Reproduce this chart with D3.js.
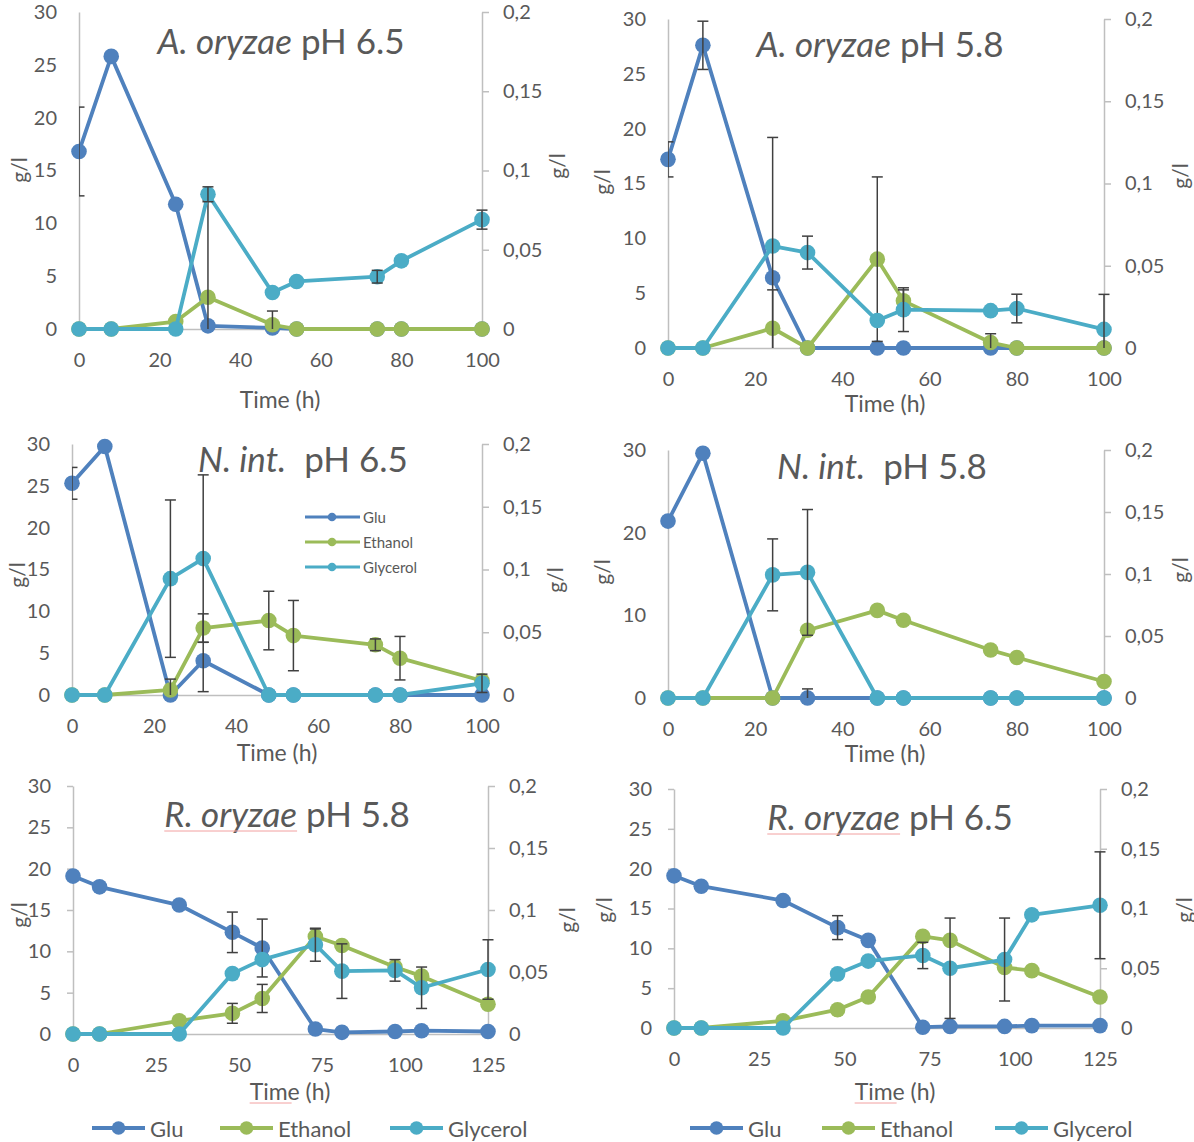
<!DOCTYPE html>
<html>
<head>
<meta charset="utf-8">
<script src="https://cdn.jsdelivr.net/npm/d3@7"></script>
<style>
  body { margin: 0; background: #fff; }
  text { font-family: Lato, "Open Sans", sans-serif; }
</style>
</head>
<body>
<div id="chart"></div>
<script>
// sampling times (h)
const timesShort = [0, 8, 24, 32, 48, 54, 74, 80, 100];
const timesLong = [0, 8, 32, 48, 57, 73, 81, 97, 105, 125];

const seriesNames = ['Glu', 'Ethanol', 'Glycerol'];
const seriesColors = ['#4F81BD', '#9BBB59', '#4BACC6'];

const leftTicks = [0, 5, 10, 15, 20, 25, 30];
const leftTicksCoarse = [0, 10, 20, 30];
const rightTicks = [0, 0.05, 0.1, 0.15, 0.2];
const timeTicksShort = [0, 20, 40, 60, 80, 100];
const timeTicksLong = [0, 25, 50, 75, 100, 125];

// Glu and Ethanol are read on the left axis (g/l), Glycerol on the right axis (g/l)
// A. oryzae pH 6.5
const aoHighGlu = [16.8, 25.8, 11.8, 0.3, 0.1, 0, 0, 0, 0];
const aoHighGluErr = [4.2, null, null, null, null, null, null, null, null];
const aoHighEth = [0, 0, 0.7, 3.0, 0.4, 0, 0, 0, 0];
const aoHighEthErr = [null, null, null, 9.2, 1.3, null, null, null, null];
const aoHighGly = [0, 0, 0, 0.085, 0.023, 0.030, 0.033, 0.043, 0.069];
const aoHighGlyErr = [null, null, null, 0.0047, null, null, 0.004, null, 0.006];

// A. oryzae pH 5.8
const aoLowGlu = [17.2, 27.6, 6.4, 0, 0, 0, 0, 0, 0];
const aoLowGluErr = [1.6, 2.2, null, null, null, null, null, null, null];
const aoLowEth = [0, 0, 1.8, 0, 8.1, 4.3, 0.5, 0, 0];
const aoLowEthErr = [null, null, 3.5, null, 7.5, 1.0, 0.8, null, null];
const aoLowGly = [0, 0, 0.062, 0.058, 0.0167, 0.0233, 0.0227, 0.024, 0.0113];
const aoLowGlyErr = [null, null, 0.066, 0.010, null, 0.0133, null, 0.0087, 0.0213];

// N. int. pH 6.5
const niHighGlu = [25.3, 29.7, 0, 4.1, 0, 0, 0, 0, 0];
const niHighGluErr = [1.9, null, null, 3.7, null, null, null, null, null];
const niHighEth = [0, 0, 0.6, 8.0, 8.9, 7.1, 6.0, 4.4, 1.7];
const niHighEthErr = [null, null, 1.3, 1.7, 3.5, 4.2, 0.7, 2.6, null];
const niHighGly = [0, 0, 0.0927, 0.1087, 0, 0, 0, 0, 0.0093];
const niHighGlyErr = [null, null, 0.0627, 0.0667, null, null, null, null, 0.0073];

// N. int. pH 5.8
const niLowGlu = [21.4, 29.6, 0, 0, 0, 0, 0, 0, 0];
const niLowGluErr = [null, null, null, 1.1, null, null, null, null, null];
const niLowEth = [0, 0, 0, 8.2, 10.6, 9.4, 5.8, 4.9, 2.0];
const niLowEthErr = [null, null, null, null, null, null, null, null, null];
const niLowGly = [0, 0, 0.0993, 0.1013, 0, 0, 0, 0, 0];
const niLowGlyErr = [null, null, 0.029, 0.0507, null, null, null, null, null];

// R. oryzae pH 5.8
const roLowGlu = [19.1, 17.8, 15.6, 12.3, 10.4, 0.6, 0.2, 0.3, 0.4, 0.3];
const roLowGluErr = [null, null, null, 2.45, 3.5, null, null, null, null, null];
const roLowEth = [0, 0, 1.6, 2.5, 4.3, 11.8, 10.7, 8.1, 7.0, 3.6];
const roLowEthErr = [null, null, null, 1.2, 1.7, 0.9, null, null, null, null];
const roLowGly = [0, 0, 0, 0.0487, 0.06, 0.072, 0.0507, 0.0513, 0.0373, 0.052];
const roLowGlyErr = [null, null, null, null, null, 0.0133, 0.022, 0.0087, 0.0167, 0.024];

// R. oryzae pH 6.5
const roHighGlu = [19.1, 17.8, 16.0, 12.6, 11.0, 0.1, 0.2, 0.2, 0.3, 0.3];
const roHighGluErr = [null, null, null, 1.5, null, null, null, null, null, null];
const roHighEth = [0, 0, 0.9, 2.3, 3.9, 11.5, 11.0, 7.6, 7.2, 3.9];
const roHighEthErr = [null, null, null, null, null, null, null, null, null, null];
const roHighGly = [0, 0, 0, 0.0453, 0.056, 0.0607, 0.05, 0.0573, 0.0947, 0.1027];
const roHighGlyErr = [null, null, null, null, null, 0.011, 0.042, 0.0347, null, 0.0447];

const FONT = 'Lato, "Open Sans", sans-serif';
const TEXT = '#595959';
const AXIS = '#BFBFBF';

const commaFormat = d3.formatLocale({decimal: ',', thousands: '.', grouping: [3], currency: ['', '']}).format('~g');

// panel layout: plot box in page pixels
const panels = [
  {species: 'A. oryzae', ph: ' pH 6.5', times: timesShort, xTicks: timeTicksShort, yTicks: leftTicks, leftTick: 0,
   box: {left: 79, right: 482, top: 12, bottom: 329}, titleX: 281, titleY: 54, timeX: 280, timeY: 408,
   gLeft: [18, 170], gRight: [556, 166],
   values: [aoHighGlu, aoHighEth, aoHighGly], errors: [aoHighGluErr, aoHighEthErr, aoHighGlyErr]},
  {species: 'A. oryzae', ph: ' pH 5.8', times: timesShort, xTicks: timeTicksShort, yTicks: leftTicks, leftTick: 0,
   box: {left: 668, right: 1104, top: 19, bottom: 348}, titleX: 880, titleY: 57, timeX: 885, timeY: 412,
   gLeft: [601, 182], gRight: [1179, 176],
   values: [aoLowGlu, aoLowEth, aoLowGly], errors: [aoLowGluErr, aoLowEthErr, aoLowGlyErr]},
  {species: 'N. int.', ph: '  pH 6.5', times: timesShort, xTicks: timeTicksShort, yTicks: leftTicks, leftTick: 0,
   box: {left: 72, right: 482, top: 444, bottom: 695}, titleX: 303, titleY: 472, timeX: 277, timeY: 761,
   gLeft: [16, 575], gRight: [554, 580], legend: true,
   values: [niHighGlu, niHighEth, niHighGly], errors: [niHighGluErr, niHighEthErr, niHighGlyErr]},
  {species: 'N. int.', ph: '  pH 5.8', times: timesShort, xTicks: timeTicksShort, yTicks: leftTicksCoarse, leftTick: 0,
   box: {left: 668, right: 1104, top: 450, bottom: 698}, titleX: 882, titleY: 479, timeX: 885, timeY: 762,
   gLeft: [601, 572], gRight: [1179, 570],
   values: [niLowGlu, niLowEth, niLowGly], errors: [niLowGluErr, niLowEthErr, niLowGlyErr]},
  {species: 'R. oryzae', ph: ' pH 5.8', times: timesLong, xTicks: timeTicksLong, yTicks: leftTicks, leftTick: 6, squiggle: true,
   box: {left: 73, right: 488, top: 786, bottom: 1034}, titleX: 287, titleY: 827, timeX: 290, timeY: 1100,
   gLeft: [18, 915], gRight: [566, 920], bottomLegend: [92, 220, 390],
   values: [roLowGlu, roLowEth, roLowGly], errors: [roLowGluErr, roLowEthErr, roLowGlyErr]},
  {species: 'R. oryzae', ph: ' pH 6.5', times: timesLong, xTicks: timeTicksLong, yTicks: leftTicks, leftTick: 6, squiggle: true,
   box: {left: 674, right: 1100, top: 789, bottom: 1028}, titleX: 890, titleY: 830, timeX: 895, timeY: 1100,
   gLeft: [603, 910], gRight: [1183, 910], bottomLegend: [690, 822, 995],
   values: [roHighGlu, roHighEth, roHighGly], errors: [roHighGluErr, roHighEthErr, roHighGlyErr]}
];

const svg = d3.select('#chart').append('svg')
  .attr('width', 1194)
  .attr('height', 1142)
  .style('display', 'block');

panels.forEach((p, i) => drawPanel(p, i));

function styleAxis(g) {
  g.attr('font-family', FONT).attr('font-size', 20).attr('color', AXIS);
  g.selectAll('path.domain').attr('stroke-width', 1.5);
  g.selectAll('.tick line').attr('stroke-width', 1.5);
  g.selectAll('text').attr('fill', TEXT);
}

function drawPanel(p, i) {
  const b = p.box;
  const xScale = d3.scaleLinear().domain([0, d3.max(p.xTicks)]).range([b.left, b.right]);
  const yLeft = d3.scaleLinear().domain([0, 30]).range([b.bottom, b.top]);
  const yRight = d3.scaleLinear().domain([0, 0.2]).range([b.bottom, b.top]);
  const yScales = [yLeft, yLeft, yRight];

  const g = svg.append('g');

  // axes
  g.append('g')
    .attr('transform', `translate(0,${b.bottom})`)
    .call(d3.axisBottom(xScale).tickValues(p.xTicks).tickSize(0).tickSizeOuter(0).tickPadding(24))
    .call(styleAxis);

  g.append('g')
    .attr('transform', `translate(${b.left},0)`)
    .call(d3.axisLeft(yLeft).tickValues(p.yTicks).tickSize(p.leftTick).tickSizeOuter(0).tickPadding(22 - p.leftTick))
    .call(styleAxis);

  g.append('g')
    .attr('transform', `translate(${b.right},0)`)
    .call(d3.axisRight(yRight).tickValues(rightTicks).tickFormat(commaFormat).tickSize(7).tickSizeOuter(0).tickPadding(14))
    .call(styleAxis);

  // axis titles
  g.append('text')
    .attr('transform', `translate(${p.gLeft[0]},${p.gLeft[1]}) rotate(-90)`)
    .attr('text-anchor', 'middle').attr('dominant-baseline', 'central')
    .attr('font-size', 21).attr('fill', TEXT)
    .text('g/l');
  g.append('text')
    .attr('transform', `translate(${p.gRight[0]},${p.gRight[1]}) rotate(-90)`)
    .attr('text-anchor', 'middle').attr('dominant-baseline', 'central')
    .attr('font-size', 21).attr('fill', TEXT)
    .text('g/l');

  const timeLabel = g.append('text')
    .attr('x', p.timeX).attr('y', p.timeY)
    .attr('text-anchor', 'middle')
    .attr('font-size', 23).attr('fill', TEXT)
    .text('Time (h)');

  // title
  const title = g.append('text')
    .attr('x', p.titleX).attr('y', p.titleY)
    .attr('text-anchor', 'middle')
    .attr('font-size', 35).attr('fill', TEXT)
    .style('white-space', 'pre');
  const sp = title.append('tspan').attr('font-style', 'italic').text(p.species);
  title.append('tspan').text(p.ph);

  // spell-check underline under the species name and "Time"
  if (p.squiggle) {
    const tb = title.node().getBBox();
    const spLen = sp.node().getComputedTextLength();
    g.append('line')
      .attr('x1', tb.x).attr('x2', tb.x + spLen)
      .attr('y1', p.titleY + 4).attr('y2', p.titleY + 4)
      .attr('stroke', '#F2A0A0').attr('stroke-width', 1);
    const lb = timeLabel.node().getBBox();
    g.append('line')
      .attr('x1', lb.x).attr('x2', lb.x + lb.width * 0.52)
      .attr('y1', p.timeY + 3).attr('y2', p.timeY + 3)
      .attr('stroke', '#F2A0A0').attr('stroke-width', 1);
  }

  // clip for error bars
  const clipId = `clip-${i}`;
  svg.append('clipPath').attr('id', clipId)
    .append('rect')
    .attr('x', b.left).attr('y', b.top - 20)
    .attr('width', b.right - b.left + 12).attr('height', b.bottom - b.top + 20);

  // series: Glu, Ethanol, Glycerol in drawing order
  seriesNames.forEach((name, s) => {
    const yScale = yScales[s];
    const pts = p.times.map((t, k) => ({t: t, v: p.values[s][k], e: p.errors[s][k]}));
    const line = d3.line().x(d => xScale(d.t)).y(d => yScale(d.v));

    g.append('path')
      .datum(pts)
      .attr('d', line)
      .attr('fill', 'none')
      .attr('stroke', seriesColors[s])
      .attr('stroke-width', 3.8)
      .attr('stroke-linejoin', 'round');

    g.selectAll(`.marker-${s}`)
      .data(pts)
      .enter().append('circle')
      .attr('class', `marker-${s}`)
      .attr('cx', d => xScale(d.t))
      .attr('cy', d => yScale(d.v))
      .attr('r', 7.8)
      .attr('fill', seriesColors[s]);

    const errG = g.append('g').attr('clip-path', `url(#${clipId})`)
      .attr('stroke', '#404040').attr('stroke-width', 1.5);
    pts.filter(d => d.e != null).forEach(d => {
      const cx = xScale(d.t);
      const yTop = yScale(d.v + d.e);
      const yBot = yScale(d.v - d.e);
      errG.append('line').attr('x1', cx).attr('x2', cx).attr('y1', yTop).attr('y2', yBot);
      errG.append('line').attr('x1', cx - 5.5).attr('x2', cx + 5.5).attr('y1', yTop).attr('y2', yTop);
      errG.append('line').attr('x1', cx - 5.5).attr('x2', cx + 5.5).attr('y1', yBot).attr('y2', yBot);
    });
  });

  // legend inside the N. int. pH 6.5 panel
  if (p.legend) {
    const legend = g.append('g').attr('transform', 'translate(305,517)');
    seriesNames.forEach((name, s) => {
      const item = legend.append('g').attr('transform', `translate(0,${s * 25})`);
      item.append('line').attr('x1', 0).attr('x2', 55).attr('stroke', seriesColors[s]).attr('stroke-width', 3);
      item.append('circle').attr('cx', 27).attr('r', 4.3).attr('fill', seriesColors[s]);
      item.append('text').attr('x', 58).attr('dominant-baseline', 'central')
        .attr('font-size', 15).attr('fill', TEXT).text(name);
    });
  }

  // legend below the R. oryzae panels
  if (p.bottomLegend) {
    seriesNames.forEach((name, s) => {
      const item = g.append('g').attr('transform', `translate(${p.bottomLegend[s]},1128)`);
      item.append('line').attr('x1', 0).attr('x2', 53).attr('stroke', seriesColors[s]).attr('stroke-width', 4);
      item.append('circle').attr('cx', 26.5).attr('r', 6.8).attr('fill', seriesColors[s]);
      item.append('text').attr('x', 58).attr('dominant-baseline', 'central')
        .attr('font-size', 22).attr('fill', TEXT).text(name);
    });
  }
}
</script>
</body>
</html>
